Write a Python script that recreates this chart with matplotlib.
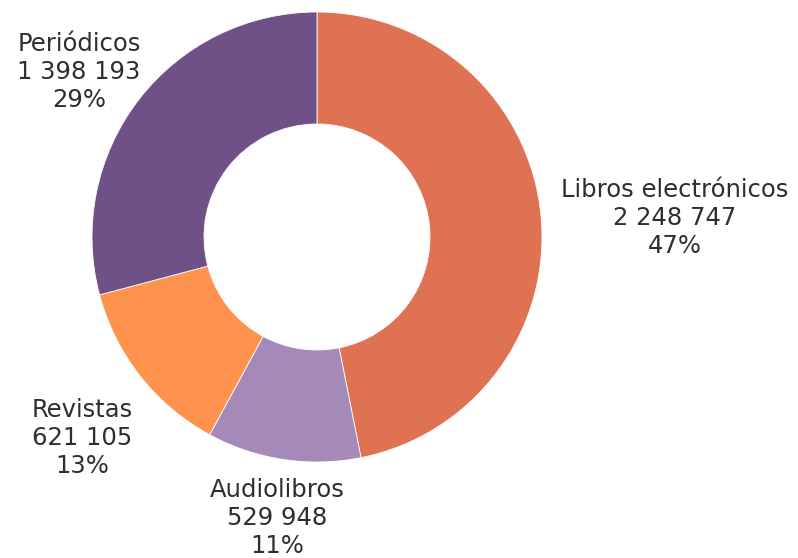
import matplotlib.pyplot as plt

categories = ["Libros electrónicos", "Audiolibros", "Revistas", "Periódicos"]
counts = [2248747, 529948, 621105, 1398193]
percent_labels = ["47%", "11%", "13%", "29%"]
colors = ["#E07254", "#A589B9", "#FF924D", "#6F5087"]

# label centres in pixel space (x from left, y from top of the figure)
label_pos = [(675, 218), (277, 518), (82, 438), (79, 72)]

W, H = 798, 558

plt.rcParams["font.family"] = ["DejaVu Sans"]

fig = plt.figure(figsize=(W / 100, H / 100), dpi=100)
ax = fig.add_axes([0, 0, 1, 1])

ax.pie(
    counts,
    colors=colors,
    startangle=90,
    counterclock=False,
    center=(317, H - 237),
    radius=225,
    wedgeprops=dict(width=112, edgecolor="white", linewidth=0.6),
    frame=True,
)
ax.set_xlim(0, W)
ax.set_ylim(0, H)
ax.set_aspect("equal")
ax.axis("off")


def fmt(n):
    return f"{n:,}".replace(",", " ")


for name, n, pct, (x, y) in zip(categories, counts, percent_labels, label_pos):
    ax.text(x, H - y, f"{name}\n{fmt(n)}\n{pct}", ha="center", va="center",
            fontsize=17.5, color="#2e2e2e", linespacing=1.2)

fig.savefig("out.png", dpi=100)
